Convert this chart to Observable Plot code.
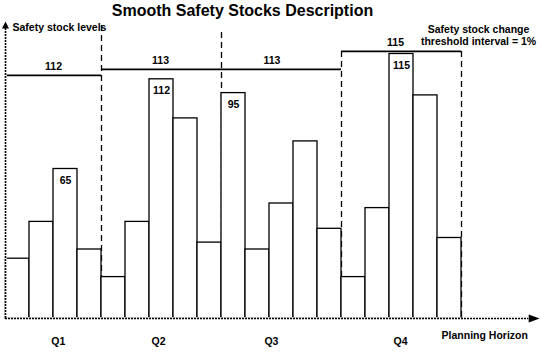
<!DOCTYPE html>
<html>
<head>
<meta charset="utf-8">
<script src="https://cdn.jsdelivr.net/npm/d3@7"></script>
<script src="https://cdn.jsdelivr.net/npm/@observablehq/plot@0.6"></script>
<style>
  html, body { margin: 0; padding: 0; background: #fff; }
  #title { width: 485px; height: 18px; padding-top: 2px; line-height: 18px; text-align: center;
           font: bold 16px "Liberation Sans", Arial, sans-serif; color: #000; }
</style>
</head>
<body>
<div id="title">Smooth Safety Stocks Description</div>
<div id="chart"></div>
<script>
// ---- data ----
const barValues = [26, 42, 65, 30, 18, 42, 104, 87, 33, 98, 30, 50, 77, 39, 18, 48, 115, 97, 35];
const barLabels = ["", "", "65", "", "", "", "112", "", "", "95", "", "", "", "", "", "", "115", "", ""];

const quarters = ["Q1", "Q2", "Q3", "Q4"];
const quarterCenters = [2.2, 6.38, 11.08, 16.46];

const levelStarts = [0, 4, 9, 14];
const levelEnds = [4, 9, 14, 19];
const levelValues = [105.7, 108.3, 108.3, 116.1];
const levelLabels = ["112", "113", "113", "115"];
const levelLabelAt = [2.0, 6.46, 11.1, 16.25];

const dividerAt = [4, 9, 14, 19];
const dividerTop = [127.4, 124.3, 116.1, 116.1];

const yAxisTop = 126.1;
const xAxisEnd = 21.8;

// ---- tables ----
const bars = barValues.map((v, i) => ({i, v, label: barLabels[i]}));
const levels = levelValues.map((v, k) => ({start: levelStarts[k], end: levelEnds[k], v, label: levelLabels[k], at: levelLabelAt[k]}));
const dividers = dividerAt.map((x, k) => ({x, top: dividerTop[k]}));
const qs = quarters.map((q, k) => ({q, x: quarterCenters[k]}));

const chart = Plot.plot({
  width: 541,
  height: 332,
  marginLeft: 5,
  marginRight: 80,
  marginTop: 22,
  marginBottom: 34,
  x: {domain: [0, 19], axis: null},
  y: {domain: [0, 120], axis: null},
  style: {fontFamily: "'Liberation Sans', Arial, sans-serif", fontSize: "10.5px", fontWeight: "bold", background: "white", overflow: "visible", color: "black"},
  marks: [
    // dashed period dividers
    Plot.ruleX(dividers, {x: "x", y1: "top", y2: 0, stroke: "black", strokeWidth: 1.3, strokeDasharray: "6,4"}),
    // bars
    Plot.rect(bars, {x1: "i", x2: d => d.i + 1, y1: 0, y2: "v", fill: "white", stroke: "black", strokeWidth: 1.3}),
    Plot.text(bars.filter(d => d.label), {x: d => d.i + 0.5, y: "v", text: "label", lineAnchor: "bottom", dy: 15, fill: "black"}),
    // safety stock levels
    Plot.ruleY(levels, {y: "v", x1: "start", x2: "end", stroke: "black", strokeWidth: 1.8}),
    Plot.text(levels, {x: "at", y: "v", text: "label", lineAnchor: "bottom", dy: -5.5, fill: "black"}),
    // axes (dotted with arrowheads)
    Plot.ruleY([0], {x1: 0, x2: 19, stroke: "white", strokeWidth: 2.5}),
    Plot.ruleX([0], {y1: 0, y2: yAxisTop, stroke: "white", strokeWidth: 2.5}),
    Plot.ruleY([0], {x1: 0, x2: xAxisEnd, stroke: "black", strokeWidth: 1.6, strokeDasharray: "2,1"}),
    Plot.ruleX([0], {y1: 0, y2: yAxisTop, stroke: "black", strokeWidth: 1.6, strokeDasharray: "2,1"}),
    Plot.vector([{x: 0, y: yAxisTop}], {x: "x", y: "y", length: 7, r: 3.5, rotate: 0, shape: "spike", anchor: "start", fill: "black", stroke: "none"}),
    Plot.vector([{x: xAxisEnd, y: 0}], {x: "x", y: "y", length: 11, r: 4, rotate: 90, shape: "spike", anchor: "start", fill: "black", stroke: "none"}),
    // quarter labels
    Plot.text(qs, {x: "x", y: -11.7, text: "q", lineAnchor: "bottom", fill: "black"}),
    // annotations
    Plot.text(["Safety stock levels"], {x: 0.29, y: 125.2, text: d => d, textAnchor: "start", lineAnchor: "bottom", fill: "black"}),
    Plot.text(["Safety stock change\nthreshold interval = 1%"], {x: 19.71, y: 119.1, text: d => d, textAnchor: "middle", lineAnchor: "bottom", lineHeight: 1.15, fill: "black"}),
    Plot.text(["Planning Horizon"], {x: 18.17, y: -8.7, text: d => d, textAnchor: "start", lineAnchor: "bottom", fill: "black"})
  ]
});
document.getElementById("chart").appendChild(chart);
</script>
</body>
</html>
